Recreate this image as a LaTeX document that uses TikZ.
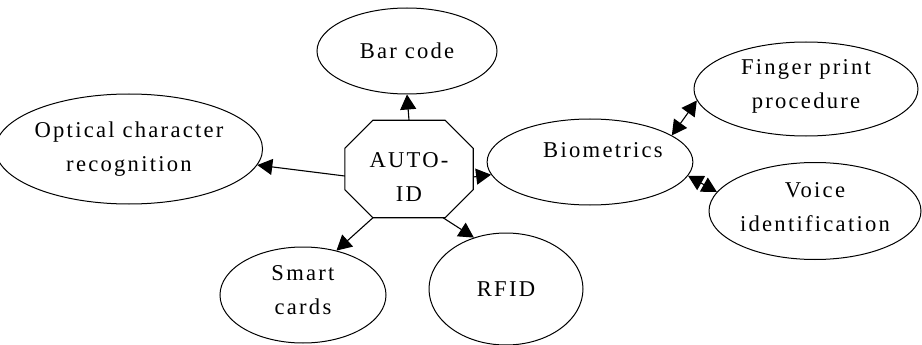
\documentclass[tikz,border=0pt]{standalone}
\usepackage{fontspec}
\setmainfont{Liberation Serif}[LetterSpace=10]
\usetikzlibrary{shapes.geometric,arrows.meta}
\tikzset{
  txt/.style={align=center, font=\fontsize{22.6}{34}\selectfont},
  bubble/.style={txt, draw=black, line width=1pt, ellipse, inner sep=0pt},
  hub/.style={txt, rectangle, inner sep=0pt, minimum width=128pt, minimum height=97pt},
  outline/.style={draw=black, line width=1.1pt, line join=miter},
  link/.style={line width=1.1pt, -{Triangle[length=15pt,width=16pt]}},
  duplex/.style={line width=1.1pt, {Triangle[length=15pt,width=16pt]}-{Triangle[length=15pt,width=16pt]}}
}
\begin{document}
\begin{tikzpicture}[x=1pt,y=-1pt]
\useasboundingbox (0,0) rectangle (922,345);
\fill[white] (0,0) rectangle (922,345);

% central hub: an octagon drawn round a rectangular node
\node[hub] (auto) at (409,169) {\\[-2pt]AUTO-\\ID};
\draw[outline]
  ([xshift=28pt]auto.north west) -- ([xshift=-28pt]auto.north east)
  -- ([yshift=-28pt]auto.north east) -- ([yshift=28pt]auto.south east)
  -- ([xshift=-28pt]auto.south east) -- ([xshift=28pt]auto.south west)
  -- ([yshift=28pt]auto.south west) -- ([yshift=-28pt]auto.north west) -- cycle;

% surrounding technologies
\node[bubble, minimum width=180pt, minimum height=86pt] (bar) at (407,51) {Bar code};
\node[bubble, minimum width=238pt, minimum height=110pt] (ocr) at (129,149) {Optical character\\recognition};
\node[bubble, minimum width=184pt, minimum height=86pt] (bio) at (590,162) {\hspace*{26pt}Biometrics\\[-10pt]\mbox{}};
\node[bubble, minimum width=224pt, minimum height=94pt] (finger) at (806,89) {Finger print\\procedure\\[-24pt]\mbox{}};
\node[bubble, minimum width=212pt, minimum height=97pt] (voice) at (815,211) {Voice\\identification\\[-26pt]\mbox{}};
\node[bubble, minimum width=166pt, minimum height=96pt] (smart) at (303,295) {Smart\\cards\\[-24pt]\mbox{}};
\node[bubble, minimum width=154pt, minimum height=112pt] (rfid) at (506,289) {RFID};

% connectors from the hub
\draw[link] (auto.north) -- (bar.south);
\draw[link] ([yshift=-7pt]auto.west) -- (ocr);
\draw[link] ([yshift=-8pt]auto.east) -- (bio);
\draw[link] ([xshift=-36pt]auto.south) -- (smart.53);
\draw[link] ([xshift=34pt]auto.south) -- (rfid.122);

% biometric sub-methods
\draw[duplex] (bio.18) -- (finger.186);
\draw[duplex] (bio.-8) -- (voice.169);
\end{tikzpicture}
\end{document}
